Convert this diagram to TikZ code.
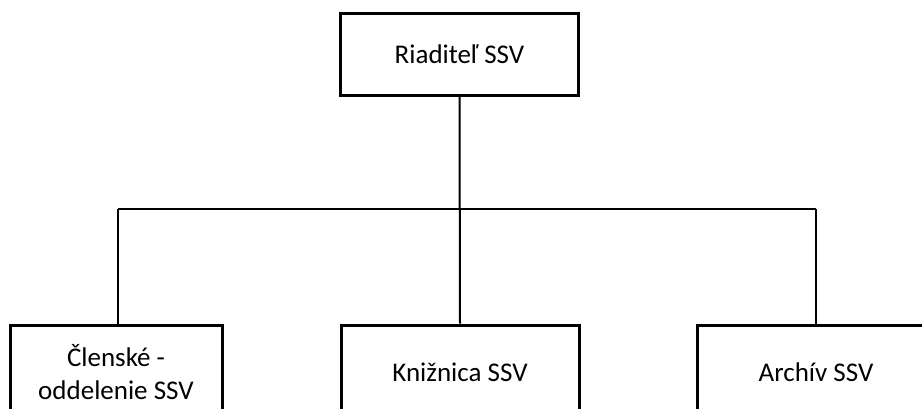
\documentclass[tikz,border=0pt]{standalone}
\usepackage{fontspec}
\setmainfont{Carlito}
\tikzset{
    unit/.style={draw, line width=3pt, minimum width=238pt, minimum height=82pt,
        align=center, inner sep=0pt, font=\fontsize{27}{33}\selectfont},
    link/.style={line width=2pt}
}
\begin{document}
\begin{tikzpicture}[x=1pt, y=-1pt]
    \useasboundingbox (0,0) rectangle (922,408);
    \clip (0,0) rectangle (922,408);

    \node[unit] (director) at (459.5,54.5) {Riaditeľ SSV};
    \node[unit, minimum width=212pt, minimum height=94pt] (members) at (116,372) {Členské -\\oddelenie SSV};
    \node[unit, minimum height=94pt] (library) at (460,372) {Knižnica SSV};
    \node[unit, minimum height=94pt] (archive) at (816,372) {Archív SSV};

    \coordinate (busL) at (118,209);
    \coordinate (busR) at (816,209);

    \draw[link] (director.south) -- (library.north);
    \draw[link] (busL) -- (busR);
    \draw[link] (busL) -- (busL |- members.north);
    \draw[link] (busR) -- (busR |- archive.north);
\end{tikzpicture}
\end{document}
